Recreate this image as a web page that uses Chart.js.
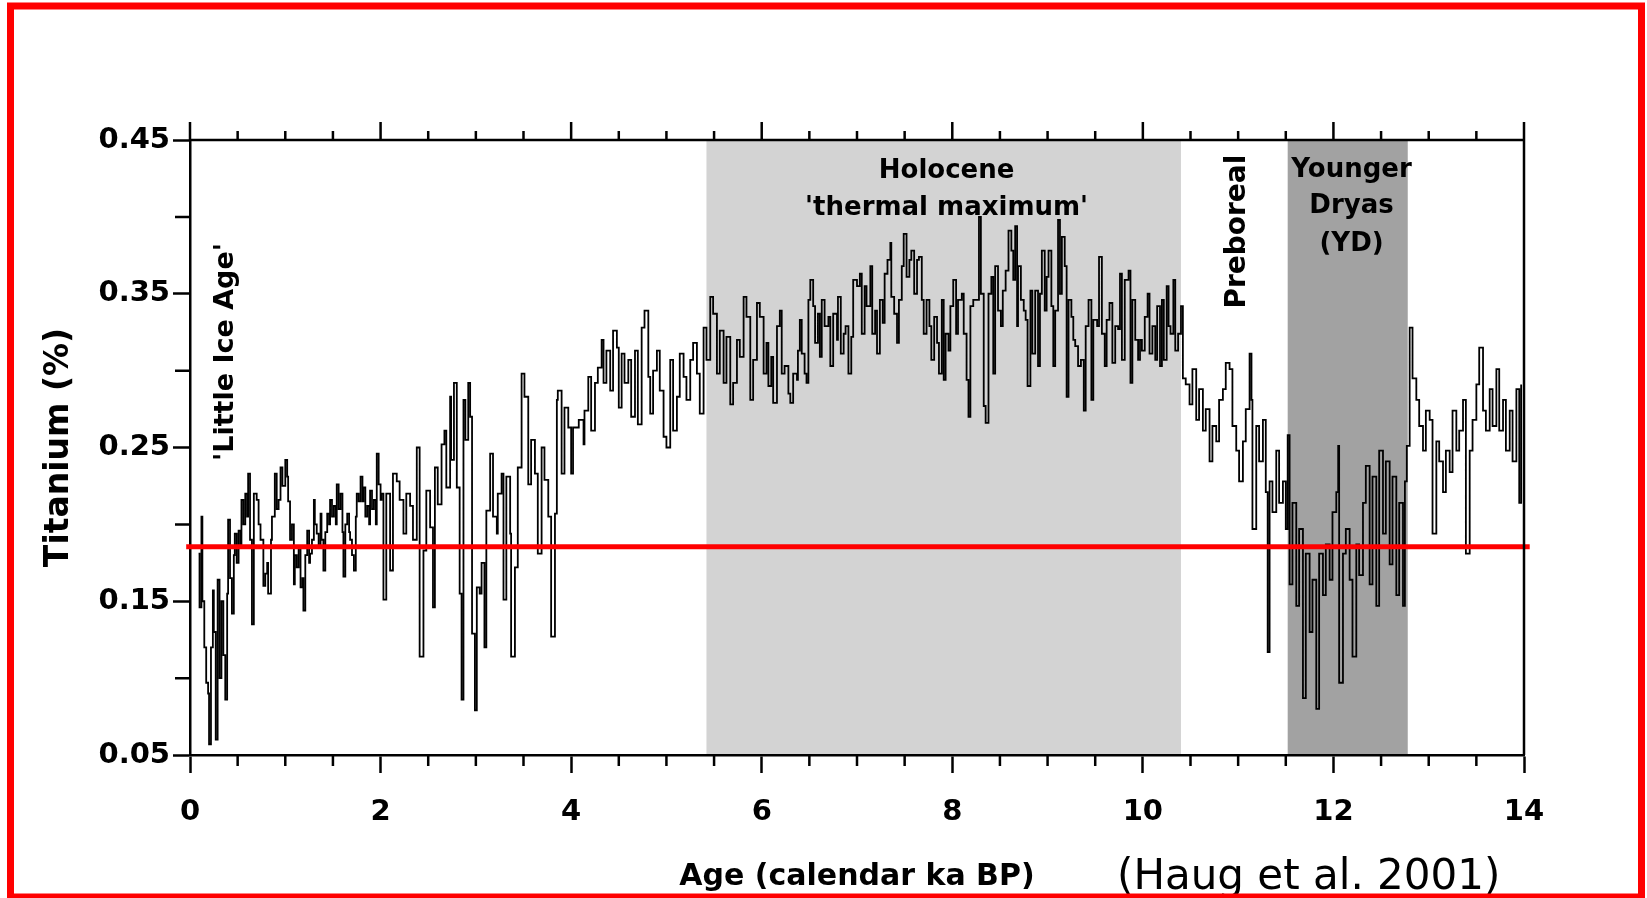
<!DOCTYPE html>
<html>
<head>
<meta charset="utf-8">
<title>Titanium (%) vs age</title>
<script src="https://cdn.jsdelivr.net/npm/chart.js@4.4.1/dist/chart.umd.min.js"></script>
<style>
  html, body { margin: 0; padding: 0; background: #fff; }
  #wrap { position: relative; width: 1647px; height: 898px; }
</style>
</head>
<body>
<div id="wrap"><canvas id="tiChart"></canvas></div>
<script>
// ages in ka BP
const ages = [
  0.09, 0.10, 0.12, 0.13, 0.15, 0.17, 0.19, 0.20, 0.22, 0.24, 0.25, 0.27, 0.29, 0.31, 0.33, 0.35, 0.37, 0.39, 0.40, 0.42,
  0.44, 0.46, 0.47, 0.49, 0.51, 0.53, 0.54, 0.56, 0.58, 0.60, 0.61, 0.63, 0.65, 0.67, 0.70, 0.72, 0.74, 0.77, 0.79, 0.81,
  0.82, 0.85, 0.86, 0.89, 0.91, 0.93, 0.95, 0.97, 1.00, 1.02, 1.03, 1.05, 1.07, 1.09, 1.10, 1.12, 1.14, 1.16, 1.18, 1.19,
  1.21, 1.23, 1.25, 1.26, 1.28, 1.30, 1.31, 1.33, 1.35, 1.37, 1.38, 1.40, 1.42, 1.44, 1.46, 1.47, 1.49, 1.51, 1.53, 1.54,
  1.56, 1.58, 1.60, 1.61, 1.63, 1.65, 1.67, 1.68, 1.70, 1.72, 1.74, 1.75, 1.77, 1.79, 1.81, 1.82, 1.84, 1.86, 1.88, 1.89,
  1.91, 1.93, 1.95, 1.96, 1.98, 2.00, 2.01, 2.03, 2.06, 2.10, 2.13, 2.17, 2.20, 2.24, 2.27, 2.31, 2.34, 2.38, 2.41, 2.45,
  2.48, 2.52, 2.55, 2.57, 2.60, 2.64, 2.67, 2.69, 2.73, 2.74, 2.77, 2.80, 2.83, 2.85, 2.87, 2.89, 2.92, 2.94, 2.96, 2.99,
  3.01, 3.04, 3.06, 3.09, 3.11, 3.15, 3.18, 3.22, 3.23, 3.27, 3.29, 3.32, 3.36, 3.37, 3.41, 3.44, 3.48, 3.51, 3.55, 3.58,
  3.62, 3.65, 3.69, 3.72, 3.76, 3.79, 3.83, 3.85, 3.86, 3.90, 3.93, 3.97, 4.00, 4.02, 4.08, 4.13, 4.14, 4.18, 4.21, 4.25,
  4.28, 4.32, 4.34, 4.37, 4.41, 4.44, 4.48, 4.50, 4.53, 4.56, 4.60, 4.63, 4.67, 4.70, 4.74, 4.77, 4.81, 4.83, 4.86, 4.90,
  4.93, 4.97, 5.00, 5.04, 5.07, 5.11, 5.14, 5.18, 5.21, 5.25, 5.28, 5.32, 5.35, 5.39, 5.42, 5.46, 5.49, 5.53, 5.56, 5.60,
  5.63, 5.67, 5.70, 5.74, 5.77, 5.81, 5.84, 5.88, 5.91, 5.95,
  5.98, 6.02, 6.05, 6.07, 6.10, 6.12, 6.16, 6.19, 6.21, 6.24, 6.28, 6.30, 6.33, 6.37, 6.38, 6.40, 6.42, 6.45, 6.47, 6.49,
  6.51, 6.54, 6.56, 6.59, 6.61, 6.63, 6.66, 6.70, 6.72, 6.75, 6.79, 6.80, 6.83, 6.86, 6.88, 6.91, 6.94, 6.96, 7.00, 7.03,
  7.05, 7.08, 7.10, 7.14, 7.16, 7.19, 7.21, 7.24, 7.27, 7.29, 7.32, 7.35, 7.36, 7.39, 7.42, 7.44, 7.47, 7.49, 7.52, 7.55,
  7.57, 7.60, 7.63, 7.65, 7.68, 7.70, 7.73, 7.76, 7.78, 7.81, 7.84, 7.86, 7.89, 7.91, 7.93, 7.96, 7.98, 8.01, 8.04, 8.06,
  8.10, 8.12, 8.15, 8.17, 8.19, 8.22, 8.26, 8.28, 8.30, 8.33, 8.35, 8.38, 8.41, 8.43, 8.45, 8.48, 8.51, 8.53, 8.56, 8.59,
  8.62, 8.64, 8.66, 8.68, 8.69, 8.72, 8.75, 8.77, 8.79, 8.82, 8.84, 8.87, 8.90, 8.92, 8.94, 8.97, 8.99, 9.01, 9.04, 9.06,
  9.08, 9.11, 9.13, 9.15, 9.18, 9.20, 9.22, 9.25, 9.27, 9.29, 9.32, 9.35, 9.38, 9.40, 9.43, 9.46, 9.48, 9.52, 9.54, 9.57,
  9.60, 9.62, 9.65, 9.68, 9.71, 9.74, 9.76, 9.78, 9.81, 9.85, 9.87, 9.89, 9.92, 9.95, 9.97, 9.99, 10.02, 10.05, 10.07, 10.10,
  10.13, 10.15, 10.18, 10.20, 10.22, 10.25, 10.27, 10.29, 10.32, 10.34, 10.37, 10.40,
  10.42, 10.45, 10.49, 10.52, 10.56, 10.59, 10.63, 10.66, 10.70, 10.73, 10.77, 10.80, 10.84,
  10.87, 10.91, 10.94, 10.98, 11.01, 11.05, 11.08, 11.12, 11.14, 11.15, 11.19, 11.22, 11.26, 11.29, 11.31, 11.33, 11.36, 11.40, 11.43, 11.47,
  11.50, 11.52, 11.54, 11.57, 11.61, 11.64, 11.68, 11.71, 11.75, 11.78, 11.82, 11.85, 11.89, 11.92, 11.96, 11.99, 12.03, 12.05, 12.06, 12.10,
  12.13, 12.17, 12.20, 12.24, 12.27, 12.31, 12.34, 12.38, 12.41, 12.45, 12.48, 12.52, 12.55, 12.59, 12.62, 12.66, 12.69, 12.73, 12.75, 12.77,
  12.80, 12.83, 12.87, 12.90, 12.94, 12.97, 13.01, 13.04, 13.08, 13.11, 13.15, 13.18, 13.22, 13.25, 13.29, 13.32, 13.36, 13.39, 13.43, 13.46,
  13.50, 13.53, 13.57, 13.60, 13.64, 13.67, 13.71, 13.74, 13.78, 13.81, 13.85, 13.88, 13.92, 13.95, 13.97
];

// titanium (%) at each age
const titanium = [
  0.181, 0.146, 0.205, 0.150, 0.120, 0.097, 0.090, 0.057, 0.120, 0.157, 0.130, 0.060, 0.164, 0.100, 0.150, 0.115, 0.086, 0.155, 0.203, 0.165,
  0.142, 0.180, 0.194, 0.175, 0.196, 0.185, 0.216, 0.200, 0.220, 0.205, 0.233, 0.190, 0.135, 0.220, 0.216, 0.200, 0.190, 0.160, 0.168, 0.175,
  0.155, 0.190, 0.205, 0.233, 0.210, 0.216, 0.237, 0.225, 0.242, 0.231, 0.215, 0.190, 0.200, 0.161, 0.180, 0.172, 0.185, 0.159, 0.165, 0.144,
  0.180, 0.196, 0.175, 0.181, 0.190, 0.216, 0.200, 0.194, 0.185, 0.207, 0.190, 0.170, 0.195, 0.207, 0.200, 0.216, 0.205, 0.212, 0.200, 0.226,
  0.210, 0.220, 0.195, 0.166, 0.200, 0.207, 0.195, 0.190, 0.180, 0.170, 0.205, 0.220, 0.215, 0.231, 0.215, 0.224, 0.205, 0.212, 0.200, 0.222,
  0.210, 0.216, 0.200, 0.246, 0.226, 0.216, 0.220, 0.151, 0.220, 0.170, 0.233, 0.228, 0.216, 0.194, 0.220, 0.212, 0.190, 0.250, 0.114, 0.183,
  0.222, 0.198, 0.146, 0.237, 0.213, 0.252, 0.261, 0.224, 0.283, 0.242, 0.292, 0.224, 0.155, 0.086, 0.281, 0.255, 0.292, 0.270, 0.129, 0.079,
  0.159, 0.155, 0.175, 0.120, 0.209, 0.246, 0.205, 0.194, 0.220, 0.233, 0.151, 0.231, 0.194, 0.114, 0.172, 0.237, 0.298, 0.283, 0.226, 0.255,
  0.233, 0.181, 0.250, 0.229, 0.205, 0.127, 0.207, 0.281, 0.287, 0.233, 0.276, 0.263, 0.233, 0.263, 0.268, 0.252, 0.274, 0.296, 0.261, 0.292,
  0.302, 0.320, 0.292, 0.313, 0.287, 0.326, 0.315, 0.276, 0.311, 0.292, 0.307, 0.270, 0.313, 0.265, 0.328, 0.339, 0.296, 0.272, 0.300, 0.313,
  0.287, 0.257, 0.250, 0.307, 0.261, 0.283, 0.311, 0.296, 0.281, 0.307, 0.318, 0.298, 0.272, 0.328, 0.307, 0.348, 0.337, 0.298, 0.326, 0.292,
  0.322, 0.278, 0.292, 0.320, 0.309, 0.348, 0.335, 0.281, 0.307, 0.344,
  0.335, 0.298, 0.318, 0.290, 0.309, 0.279, 0.329, 0.339, 0.298, 0.303, 0.285, 0.279, 0.298, 0.294, 0.313, 0.333, 0.311, 0.298, 0.292, 0.346,
  0.359, 0.342, 0.318, 0.337, 0.309, 0.346, 0.329, 0.335, 0.303, 0.337, 0.320, 0.348, 0.311, 0.324, 0.329, 0.298, 0.322, 0.359, 0.355, 0.363,
  0.324, 0.355, 0.342, 0.368, 0.324, 0.339, 0.311, 0.346, 0.331, 0.363, 0.372, 0.383, 0.348, 0.337, 0.318, 0.346, 0.368, 0.389, 0.361, 0.372,
  0.378, 0.350, 0.372, 0.374, 0.346, 0.324, 0.346, 0.329, 0.307, 0.335, 0.318, 0.298, 0.346, 0.294, 0.324, 0.313, 0.342, 0.359, 0.324, 0.346,
  0.350, 0.324, 0.294, 0.270, 0.342, 0.346, 0.346, 0.400, 0.350, 0.277, 0.266, 0.350, 0.361, 0.298, 0.368, 0.339, 0.329, 0.352, 0.365, 0.391,
  0.378, 0.359, 0.394, 0.329, 0.368, 0.346, 0.339, 0.333, 0.290, 0.352, 0.311, 0.352, 0.303, 0.350, 0.378, 0.339, 0.361, 0.378, 0.342, 0.303,
  0.339, 0.398, 0.350, 0.387, 0.368, 0.283, 0.346, 0.335, 0.320, 0.316, 0.303, 0.307, 0.274, 0.329, 0.346, 0.281, 0.333, 0.329, 0.374, 0.324,
  0.303, 0.333, 0.344, 0.305, 0.329, 0.327, 0.363, 0.307, 0.359, 0.365, 0.292, 0.346, 0.320, 0.307, 0.320, 0.313, 0.335, 0.350, 0.311, 0.329,
  0.307, 0.342, 0.303, 0.346, 0.307, 0.355, 0.329, 0.324, 0.359, 0.313, 0.324, 0.342,
  0.295, 0.291, 0.278, 0.301, 0.268, 0.288, 0.261, 0.275, 0.241, 0.264, 0.254, 0.281, 0.288,
  0.305, 0.301, 0.264, 0.248, 0.228, 0.254, 0.275, 0.311, 0.281, 0.197, 0.264, 0.241, 0.268, 0.221, 0.117, 0.228, 0.208, 0.248, 0.214, 0.228,
  0.197, 0.258, 0.161, 0.214, 0.147, 0.197, 0.087, 0.181, 0.130, 0.164, 0.080, 0.181, 0.154, 0.187, 0.164, 0.208, 0.221, 0.251, 0.097, 0.181,
  0.197, 0.164, 0.114, 0.187, 0.167, 0.214, 0.238, 0.161, 0.231, 0.147, 0.248, 0.194, 0.241, 0.174, 0.231, 0.154, 0.214, 0.147, 0.228, 0.251,
  0.328, 0.295, 0.281, 0.264, 0.248, 0.274, 0.268, 0.194, 0.254, 0.241, 0.221, 0.248, 0.234, 0.274, 0.248, 0.261, 0.281, 0.181, 0.248, 0.268,
  0.291, 0.315, 0.274, 0.261, 0.288, 0.264, 0.301, 0.261, 0.281, 0.248, 0.274, 0.241, 0.288, 0.214, 0.291
];

const xTickValues = [0, 2, 4, 6, 8, 10, 12, 14];
const xTickLabels = ["0", "2", "4", "6", "8", "10", "12", "14"];
const yTickValues = [0.05, 0.15, 0.25, 0.35, 0.45];
const yTickLabels = ["0.05", "0.15", "0.25", "0.35", "0.45"];
const yMinorTicks = [0.10, 0.20, 0.30, 0.40];

// red reference level
const refAges = [-0.04, 14.06];
const refLevel = 0.1855;

// shaded periods (ka BP)
const bandStarts = [5.42, 11.52];
const bandEnds = [10.40, 12.78];

// period labels
const noteTexts = ["'Little Ice Age'", "Holocene", "'thermal maximum'", "Preboreal", "Younger", "Dryas", "(YD)"];
const noteAges = [0.451, 7.94, 7.94, 11.067, 12.19, 12.19, 12.19];
const noteLevels = [0.3121, 0.425, 0.4012, 0.3904, 0.4262, 0.4027, 0.3779];

const FONT = "'DejaVu Sans', 'Liberation Sans', sans-serif";
const bandColors = ["#d3d3d3", "#a2a2a2"];
const noteRotated = [true, false, false, true, false, false, false];
const noteSizes = [27, 26, 26, 28, 26, 26, 26];

// shaded periods go under everything
const bands = {
    id: "bands",
    beforeDraw(chart) {
        const { ctx, chartArea: a, scales: { x } } = chart;
        ctx.save();
        bandStarts.forEach((s, i) => {
            const x0 = x.getPixelForValue(s);
            const x1 = x.getPixelForValue(bandEnds[i]);
            ctx.fillStyle = bandColors[i];
            ctx.fillRect(x0, a.top, x1 - x0, a.bottom - a.top);
        });
        ctx.restore();
    },
};

// top/right frame, minor ticks, labels, citation and red border
const frame = {
    id: "frame",
    afterDraw(chart) {
        const { ctx, chartArea: a, scales: { x, y } } = chart;
        ctx.save();
        ctx.strokeStyle = "#000";
        ctx.lineWidth = 2.5;
        ctx.beginPath();
        ctx.moveTo(a.left, a.top);
        ctx.lineTo(a.right, a.top);
        ctx.moveTo(a.right, a.top);
        ctx.lineTo(a.right, a.bottom);
        for (let t = 0; t <= 14; t += 0.5) {
            const px = x.getPixelForValue(t);
            const major = xTickValues.includes(t);
            ctx.moveTo(px, a.top);
            ctx.lineTo(px, a.top - (major ? 18 : 9));
            if (!major) {
                ctx.moveTo(px, a.bottom);
                ctx.lineTo(px, a.bottom + 11);
            }
        }
        yMinorTicks.forEach((v) => {
            const py = y.getPixelForValue(v);
            ctx.moveTo(a.left - 15, py);
            ctx.lineTo(a.left, py);
        });
        ctx.stroke();

        ctx.fillStyle = "#000";
        ctx.textAlign = "center";
        ctx.textBaseline = "alphabetic";
        noteTexts.forEach((txt, i) => {
            ctx.save();
            ctx.font = "bold " + noteSizes[i] + "px " + FONT;
            ctx.translate(x.getPixelForValue(noteAges[i]), y.getPixelForValue(noteLevels[i]));
            if (noteRotated[i]) ctx.rotate(-Math.PI / 2);
            ctx.fillText(txt, 0, 0);
            ctx.restore();
        });

        ctx.font = "42px " + FONT;
        ctx.textAlign = "left";
        ctx.fillText("(Haug et al. 2001)", 1117, 889);

        ctx.strokeStyle = "#ff0000";
        ctx.lineWidth = 7;
        ctx.strokeRect(10.5, 6, 1631, 891);
        ctx.restore();
    },
};

const tiCtx = document.getElementById("tiChart").getContext("2d");
new Chart(tiCtx, {
    type: "line",
    data: {
        datasets: [
            {
                label: "reference",
                data: refAges.map((a) => ({ x: a, y: refLevel })),
                borderColor: "#ff0000",
                borderWidth: 5,
                pointRadius: 0,
                clip: false,
                order: 0,
            },
            {
                label: "Titanium (%)",
                data: ages.map((a, i) => ({ x: a, y: titanium[i] })),
                borderColor: "#000",
                borderWidth: 1.8,
                pointRadius: 0,
                stepped: true,
                order: 1,
            },
        ],
    },
    options: {
        responsive: true,
        maintainAspectRatio: false,
        animation: false,
        events: [],
        layout: { padding: { top: 140, right: 123, left: 0, bottom: 0 } },
        plugins: {
            legend: { display: false },
            tooltip: { enabled: false },
        },
        scales: {
            x: {
                type: "linear",
                min: 0,
                max: 14,
                afterBuildTicks: (s) => { s.ticks = xTickValues.map((v) => ({ value: v })); },
                afterFit: (s) => { s.height = 143; },
                ticks: {
                    callback: (v, i) => xTickLabels[i],
                    font: { family: FONT, size: 29, weight: "bold" },
                    color: "#000",
                    padding: 22,
                    maxRotation: 0,
                    autoSkip: false,
                },
                grid: { drawOnChartArea: false, drawTicks: true, tickLength: 18, tickWidth: 2.5, tickColor: "#000" },
                border: { display: true, color: "#000", width: 2.5 },
                title: {
                    display: true,
                    text: "Age (calendar ka BP)",
                    font: { family: FONT, size: 30, weight: "bold" },
                    color: "#000",
                    padding: { top: 0, bottom: 3 },
                },
            },
            y: {
                type: "linear",
                min: 0.05,
                max: 0.45,
                afterBuildTicks: (s) => { s.ticks = yTickValues.map((v) => ({ value: v })); },
                afterFit: (s) => { s.width = 190; },
                ticks: {
                    callback: (v, i) => yTickLabels[i],
                    font: { family: FONT, size: 29, weight: "bold" },
                    color: "#000",
                    padding: 3,
                },
                grid: { drawOnChartArea: false, drawTicks: true, tickLength: 17, tickWidth: 2.5, tickColor: "#000" },
                border: { display: true, color: "#000", width: 2.5 },
                title: {
                    display: true,
                    text: "Titanium (%)",
                    font: { family: FONT, size: 33, weight: "bold" },
                    color: "#000",
                    padding: { top: 40, bottom: 0 },
                },
            },
        },
    },
    plugins: [bands, frame],
});
</script>
</body>
</html>
